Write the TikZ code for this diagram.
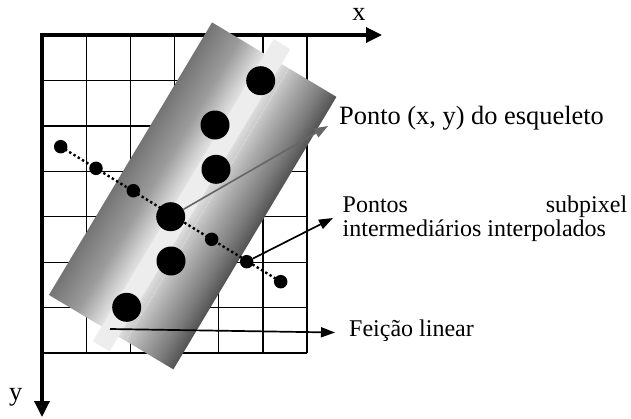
\documentclass[tikz,border=0pt]{standalone}
\usepackage{fontspec}
\setmainfont{Liberation Serif}
\usetikzlibrary{arrows.meta}
\definecolor{g1}{HTML}{747474}
\definecolor{g2}{HTML}{9C9C9C}
\definecolor{g3}{HTML}{CFCFCF}
\definecolor{g4}{HTML}{E4E4E4}
\definecolor{g5}{HTML}{DCDCDC}
\definecolor{g6}{HTML}{ADADAD}
\definecolor{g7}{HTML}{7C7C7C}
\definecolor{g8}{HTML}{525252}
\definecolor{stripc}{HTML}{EDEDED}
\definecolor{arrowgray}{HTML}{666666}
\pgfdeclarehorizontalshading{bandshade}{100bp}{color(0bp)=(g1); color(25bp)=(g1); color(36.2bp)=(g2); color(43.1bp)=(g3); color(46.2bp)=(g4); color(52.9bp)=(g5); color(60.3bp)=(g6); color(69bp)=(g7); color(75bp)=(g8); color(100bp)=(g8)}
\begin{document}
\begin{tikzpicture}[x=1pt,y=-1pt,
  gridline/.style={line width=1.3pt, draw=black},
  axisline/.style={line width=3.4pt, line join=miter, {Triangle[length=16pt,width=15pt]}-{Triangle[length=16pt,width=15pt]}},
  bigdot/.style={circle, fill=black, minimum size=29pt, inner sep=0pt},
  smalldot/.style={circle, fill=black, minimum size=13.5pt, inner sep=0pt},
  dotline/.style={line width=2.4pt, dash pattern=on 2.4pt off 2.6pt},
  grayarrow/.style={draw=arrowgray, line width=1.6pt, -{Triangle[length=14pt,width=10pt]}},
  blackarrow/.style={draw=black, line width=1.7pt, -{Triangle[length=14pt,width=10pt]}},
  lbl/.style={inner sep=0pt, anchor=base west, font=\fontsize{24}{24}\selectfont},
  biglbl/.style={inner sep=0pt, font=\fontsize{26.4}{28}\selectfont}
]
\useasboundingbox (0,0) rectangle (631,418);
% grid
\foreach \i in {0,...,6} \draw[gridline] ({42+\i*44.17},35) -- ({42+\i*44.17},353);
\foreach \j in {0,...,7} \draw[gridline] (42,{35+\j*45.43}) -- (307,{35+\j*45.43});
% axes
\coordinate (O) at (42,35);
\coordinate (X) at (382,35);
\coordinate (Y) at (42,417);
\draw[axisline] (X) -- (O) -- (Y);
% band
\begin{scope}[transform canvas={shift={(192.7,195.9)}, rotate=-30.9}]
  \shade[shading=bandshade] (-72.5,-158.8) rectangle (72.5,158.8);
  \fill[stripc] (-11,-176) rectangle (8.5,176);
  \draw[white, line width=0.5pt, densely dotted, opacity=0.8] (17,-158.8) -- (17,158.8);
\end{scope}
% dot positions
\coordinate (p1) at (60.7,146.7);
\coordinate (p2) at (96,168.3);
\coordinate (p3) at (133.3,190.7);
\coordinate (p5) at (211.7,239.3);
\coordinate (p6) at (246.7,261.7);
\coordinate (p7) at (280.7,281.7);
\draw[dotline] (p1) -- (p7);
\node[smalldot] (s1) at (p1) {};
\node[smalldot] (s2) at (p2) {};
\node[smalldot] (s3) at (p3) {};
\node[smalldot] (s5) at (p5) {};
\node[smalldot] (s6) at (p6) {};
\node[smalldot] (s7) at (p7) {};
\node[bigdot] (b1) at (260.7,80.7) {};
\node[bigdot] (b2) at (215,125) {};
\node[bigdot] (b3) at (216,169.3) {};
\node[bigdot] (b4) at (170.7,216.7) {};
\node[bigdot] (b5) at (171,261) {};
\node[bigdot] (b6) at (126.7,307.3) {};
% arrows
\coordinate (t1) at (328,126);
\coordinate (t2) at (333,218);
\coordinate (f0) at (110,329);
\coordinate (f1) at (335,332.5);
\draw[grayarrow] (b4) -- (t1);
\draw[blackarrow] (s6) -- (t2);
\draw[blackarrow] (f0) -- (f1);
% labels
\node[biglbl, anchor=base] (xl) at (359,20) {x};
\node[biglbl, anchor=base] (yl) at (15.8,400) {y};
\node[biglbl, anchor=base west] (l1) at (339,124) {Ponto (x, y) do esqueleto};
\node[lbl] (l2) at (342.5,212.7) {\parbox[t]{284.5pt}{\fontsize{24}{24}\selectfont\makebox[284.5pt][s]{Pontos subpixel}\\intermediários interpolados}};
\node[lbl] (l3) at (349,336) {Feição linear};
\end{tikzpicture}
\end{document}
